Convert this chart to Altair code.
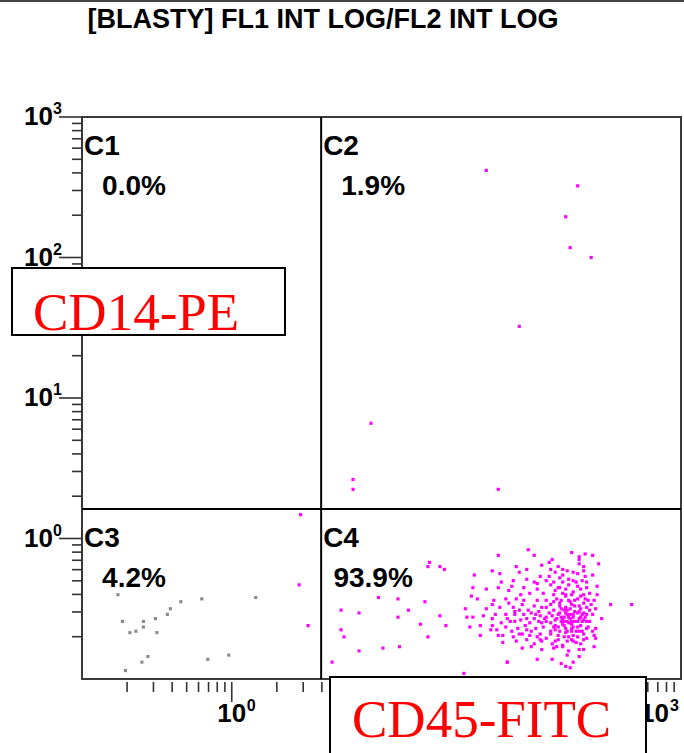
import altair as alt
import pandas as pd

# ---------------------------------------------------------------------------
# Dot plot of the blast gate: FL1 (CD45-FITC) against FL2 (CD14-PE), log/log.
# Event values are stored as log10 intensities.
# ---------------------------------------------------------------------------
TITLE = "[BLASTY] FL1 INT LOG/FL2 INT LOG"

quadrant_names = ["C1", "C2", "C3", "C4"]
quadrant_pcts = ["0.0%", "1.9%", "4.2%", "93.9%"]

# quadrant gate positions (log10)
gate_fl1 = 0.597
gate_fl2 = 0.21

# main CD45+ / CD14- population (C4)
core_fl1 = [
    1.98, 1.78, 2.02, 2.27, 2.32, 2.36, 2.41, 2.32, 2.45, 2.12,
    2.14, 2.07, 1.90, 1.97, 1.92, 1.74, 1.79, 1.62, 2.18, 2.21,
    2.24, 2.16, 2.35, 2.31, 2.36, 2.41, 2.06, 2.12, 2.19, 2.25,
    2.30, 1.88, 1.97, 1.80, 2.02, 2.10, 2.15, 2.21, 1.61, 1.70,
    1.78, 1.87, 1.95, 2.04, 2.13, 2.18, 2.23, 2.31, 2.33, 2.37,
    2.44, 1.85, 1.93, 1.99, 2.08, 2.15, 2.21, 2.28, 2.35, 2.39,
    2.44, 1.60, 1.64, 1.75, 1.83, 1.90, 1.95, 2.04, 2.10, 2.17,
    2.25, 2.31, 2.36, 2.42, 2.53, 2.67, 1.56, 1.70, 1.74, 1.79,
    1.88, 1.94, 2.02, 2.07, 2.13, 2.19, 2.23, 2.27, 2.32, 2.37,
    2.43, 1.57, 1.61, 1.68, 1.76, 1.83, 1.89, 1.95, 2.00, 2.06,
    2.12, 2.18, 2.22, 2.26, 2.31, 2.35, 2.41, 2.47, 1.66, 1.74,
    1.80, 1.86, 1.93, 1.99, 2.05, 2.10, 2.16, 2.20, 2.25, 2.29,
    2.34, 2.39, 1.59, 1.73, 1.83, 1.91, 1.97, 2.03, 2.08, 2.15,
    2.22, 2.27, 2.32, 2.37, 2.43, 1.66, 1.78, 1.81, 1.88, 1.94,
    1.99, 2.06, 2.13, 2.18, 2.23, 2.28, 2.35, 2.43, 1.81, 1.90,
    1.97, 2.02, 2.07, 2.14, 2.18, 2.24, 2.30, 2.35, 2.42, 1.94,
    2.00, 2.07, 2.15, 2.21, 2.25, 2.32, 2.35, 2.04, 2.14, 2.24,
    2.28, 2.32, 2.20, 2.23, 2.26, 1.84,
    2.19, 2.21, 2.24, 2.26, 2.28, 2.22, 2.29, 2.33, 2.24, 2.20,
    2.29, 2.33, 2.17, 2.14, 2.27, 2.31, 2.23, 2.35, 2.37, 2.32,
    2.27, 2.25, 2.31, 2.34, 2.19, 2.16, 2.13, 2.09, 2.05, 2.10,
    2.15, 2.20, 2.23, 2.27, 2.33, 2.38, 2.40, 2.38, 2.41, 2.37,
    2.28, 2.21, 2.16, 2.10, 2.04, 2.00, 1.96, 2.02, 1.98, 1.92,
    1.85, 1.84, 1.89, 1.87, 1.77, 1.74, 2.04, 2.19, 2.25, 2.28,
    2.16, 2.37, 2.34, 2.28, 2.21, 2.13, 2.35, 2.32,
    2.23, 2.25, 2.28, 2.21, 2.32, 2.27, 2.35, 2.29, 2.19, 2.15,
    2.24, 2.30, 2.22, 2.27, 2.13, 2.16, 2.33, 2.36, 2.39, 2.23,
    2.26, 2.20, 2.24, 2.31, 2.34, 2.18, 2.28, 2.22, 2.26, 2.37,
    2.10, 2.07, 2.03, 1.97, 1.89, 1.92, 2.06, 2.17, 2.33, 2.42,
]
core_fl2 = [
    -0.08, -0.12, -0.12, -0.10, -0.13, -0.11, -0.12, -0.15, -0.18, -0.17,
    -0.15, -0.19, -0.20, -0.22, -0.24, -0.23, -0.25, -0.26, -0.20, -0.22,
    -0.23, -0.24, -0.23, -0.25, -0.27, -0.26, -0.27, -0.27, -0.28, -0.29,
    -0.31, -0.30, -0.29, -0.31, -0.31, -0.30, -0.31, -0.31, -0.35, -0.36,
    -0.35, -0.34, -0.35, -0.36, -0.33, -0.35, -0.36, -0.34, -0.36, -0.35,
    -0.34, -0.37, -0.40, -0.39, -0.39, -0.40, -0.39, -0.38, -0.40, -0.39,
    -0.40, -0.41, -0.43, -0.44, -0.43, -0.43, -0.44, -0.44, -0.44, -0.43,
    -0.44, -0.43, -0.43, -0.44, -0.47, -0.47, -0.50, -0.50, -0.47, -0.49,
    -0.49, -0.47, -0.48, -0.49, -0.47, -0.48, -0.49, -0.47, -0.48, -0.49,
    -0.50, -0.56, -0.56, -0.55, -0.54, -0.54, -0.52, -0.54, -0.53, -0.55,
    -0.53, -0.54, -0.56, -0.54, -0.53, -0.53, -0.54, -0.57, -0.62, -0.62,
    -0.60, -0.59, -0.58, -0.60, -0.59, -0.59, -0.58, -0.59, -0.60, -0.59,
    -0.59, -0.59, -0.63, -0.65, -0.63, -0.64, -0.65, -0.64, -0.63, -0.63,
    -0.62, -0.64, -0.66, -0.64, -0.64, -0.69, -0.69, -0.69, -0.70, -0.68,
    -0.69, -0.68, -0.68, -0.69, -0.67, -0.69, -0.68, -0.71, -0.74, -0.73,
    -0.72, -0.75, -0.73, -0.75, -0.72, -0.73, -0.74, -0.72, -0.77, -0.78,
    -0.77, -0.79, -0.78, -0.77, -0.80, -0.79, -0.79, -0.86, -0.86, -0.83,
    -0.88, -0.84, -0.89, -0.91, -0.92, -0.88,
    -0.53, -0.57, -0.54, -0.57, -0.56, -0.59, -0.52, -0.56, -0.51, -0.50,
    -0.48, -0.50, -0.57, -0.55, -0.61, -0.63, -0.64, -0.58, -0.54, -0.52,
    -0.66, -0.70, -0.70, -0.66, -0.66, -0.65, -0.60, -0.57, -0.52, -0.49,
    -0.45, -0.44, -0.41, -0.40, -0.41, -0.44, -0.47, -0.63, -0.66, -0.71,
    -0.73, -0.76, -0.73, -0.71, -0.70, -0.66, -0.62, -0.57, -0.51, -0.51,
    -0.46, -0.57, -0.59, -0.66, -0.65, -0.57, -0.32, -0.35, -0.33, -0.30,
    -0.37, -0.31, -0.30, -0.24, -0.26, -0.22, -0.20, -0.18,
    -0.53, -0.56, -0.54, -0.61, -0.57, -0.59, -0.46, -0.44, -0.46, -0.51,
    -0.66, -0.66, -0.70, -0.72, -0.66, -0.62, -0.62, -0.56, -0.51, -0.40,
    -0.45, -0.56, -0.59, -0.59, -0.54, -0.63, -0.63, -0.51, -0.50, -0.59,
    -0.56, -0.60, -0.54, -0.57, -0.54, -0.68, -0.72, -0.77, -0.75, -0.69,
]

# sparse events left of the main C4 cloud
spread_fl1 = [1.32, 1.39, 1.42, 1.31, 0.98, 1.11, 1.29, 0.73, 0.85, 1.18, 1.11, 1.39,
              1.26, 1.43, 0.73, 0.75, 1.31, 1.01, 0.85, 1.12, 0.67, 1.55, 1.84]
spread_fl2 = [-0.17, -0.20, -0.22, -0.20, -0.42, -0.43, -0.45, -0.51, -0.53, -0.51, -0.56, -0.55,
              -0.61, -0.62, -0.65, -0.70, -0.70, -0.78, -0.80, -0.77, -0.88, -0.96, -0.88]

# CD14+ events (C2)
c2_fl1 = [1.70, 2.31, 2.23, 2.26, 2.40, 1.92, 0.93, 0.81, 0.81, 1.78]
c2_fl2 = [2.62, 2.51, 2.29, 2.07, 2.00, 1.51, 0.82, 0.42, 0.35, 0.35]

# gated events falling in C3
c3_fl1 = [0.46, 0.45, 0.51]
c3_fl2 = [0.17, -0.33, -0.62]

# ungated debris in C3 (grey)
debris_fl1 = [-0.76, -0.73, -0.68, -0.64, -0.59, -0.59, -0.51, -0.50, -0.43, -0.41,
              -0.34, -0.20, 0.16, -0.56, -0.60, -0.71, -0.16, -0.02]
debris_fl2 = [-0.40, -0.59, -0.67, -0.66, -0.59, -0.63, -0.57, -0.67, -0.54, -0.50,
              -0.45, -0.43, -0.42, -0.84, -0.88, -0.94, -0.86, -0.83]

decades = [0, 1, 2, 3]
labelled_x_decades = [0, 3]   # the others sit under the CD45-FITC box

# ---------------------------------------------------------------------------
W, H = 599, 562
MAGENTA = "#FF00FF"
LABEL_FONT = "Liberation Sans"

xs = alt.Scale(type="log", domain=[0.1, 1000], nice=False)
ys = alt.Scale(type="log", domain=[0.1, 1000], nice=False)


def events(fl1, fl2, kind):
    return pd.DataFrame({"fl1_log": fl1, "fl2_log": fl2, "kind": kind})


ev = pd.concat([
    events(core_fl1, core_fl2, "gated"),
    events(spread_fl1, spread_fl2, "gated"),
    events(c2_fl1, c2_fl2, "gated"),
    events(c3_fl1, c3_fl2, "gated"),
    events(debris_fl1, debris_fl2, "debris"),
], ignore_index=True)

dots = alt.Chart(ev).transform_calculate(
    fl1="pow(10, datum.fl1_log)", fl2="pow(10, datum.fl2_log)"
).mark_square(size=10, opacity=1).encode(
    x=alt.X("fl1:Q", scale=xs, axis=None),
    y=alt.Y("fl2:Q", scale=ys, axis=None),
    color=alt.Color("kind:N", scale=alt.Scale(domain=["gated", "debris"],
                                              range=[MAGENTA, "#8a8a8a"]), legend=None),
)

# quadrant gate lines
gates_v = alt.Chart(pd.DataFrame({"g": [gate_fl1]})).transform_calculate(
    gx="pow(10, datum.g)").mark_rule(color="black", strokeWidth=2).encode(
    x=alt.X("gx:Q", scale=xs, axis=None))
gates_h = alt.Chart(pd.DataFrame({"g": [gate_fl2]})).transform_calculate(
    gy="pow(10, datum.g)").mark_rule(color="black", strokeWidth=2).encode(
    y=alt.Y("gy:Q", scale=ys, axis=None))

# quadrant labels, anchored at each quadrant's upper-left corner
quad = pd.DataFrame({
    "name": quadrant_names,
    "pct": quadrant_pcts,
    "cx": [-1, gate_fl1, -1, gate_fl1],
    "cy": [3, 3, gate_fl2, gate_fl2],
})
quad_base = alt.Chart(quad).transform_calculate(
    qx="pow(10, datum.cx)", qy="pow(10, datum.cy)")
quad_names = quad_base.mark_text(align="left", baseline="alphabetic", dx=2, dy=38,
                                 font=LABEL_FONT, fontWeight="bold", fontSize=28,
                                 color="black").encode(
    x=alt.X("qx:Q", scale=xs, axis=None), y=alt.Y("qy:Q", scale=ys, axis=None),
    text="name:N")
quad_pcts = quad_base.mark_text(align="center", baseline="alphabetic", dx=52, dy=78,
                                font=LABEL_FONT, fontWeight="bold", fontSize=28,
                                color="black").encode(
    x=alt.X("qx:Q", scale=xs, axis=None), y=alt.Y("qy:Q", scale=ys, axis=None),
    text="pct:N")

# log axis tick marks (major + minor)
minor = pd.DataFrame({"v": [m * 10.0 ** d for d in range(-1, 3) for m in range(2, 10)]})
major = pd.DataFrame({"v": [10.0 ** d for d in decades]})
TICK = "#333333"

y_minor = alt.Chart(minor).mark_rule(color=TICK, strokeWidth=1.6).encode(
    y=alt.Y("v:Q", scale=ys, axis=None), x=alt.value(-10), x2=alt.value(0))
y_major = alt.Chart(major).mark_rule(color=TICK, strokeWidth=1.6).encode(
    y=alt.Y("v:Q", scale=ys, axis=None), x=alt.value(-23), x2=alt.value(0))
x_minor = alt.Chart(minor).mark_rule(color=TICK, strokeWidth=1.6).encode(
    x=alt.X("v:Q", scale=xs, axis=None), y=alt.value(H + 3), y2=alt.value(H + 13))
x_major = alt.Chart(major[major.v < 1000]).mark_rule(color=TICK, strokeWidth=1.6).encode(
    x=alt.X("v:Q", scale=xs, axis=None), y=alt.value(H + 3), y2=alt.value(H + 23))

# power-of-ten labels: "10" plus a raised exponent
lab = pd.DataFrame({"d": decades,
                    "v": [10.0 ** d for d in decades],
                    "base": ["10"] * len(decades),
                    "exp": [str(d) for d in decades]})
y_base = alt.Chart(lab).mark_text(align="right", baseline="middle", font=LABEL_FONT,
                                  fontWeight="bold", fontSize=26, color="black").encode(
    y=alt.Y("v:Q", scale=ys, axis=None), x=alt.value(-29), text="base:N")
y_exp = alt.Chart(lab).mark_text(align="left", baseline="middle", dy=-8, font=LABEL_FONT,
                                 fontWeight="bold", fontSize=16, color="black").encode(
    y=alt.Y("v:Q", scale=ys, axis=None), x=alt.value(-29), text="exp:N")

lab_in = lab[lab.d.isin(labelled_x_decades) & (lab.d < 3)]
lab_end = lab[lab.d.isin(labelled_x_decades) & (lab.d >= 3)]
x_base = alt.Chart(lab_in).mark_text(align="center", baseline="middle", font=LABEL_FONT,
                                     fontWeight="bold", fontSize=26, color="black").encode(
    x=alt.X("v:Q", scale=xs, axis=None), y=alt.value(H + 35), text="base:N")
x_exp = alt.Chart(lab_in).mark_text(align="left", baseline="middle", dx=15, font=LABEL_FONT,
                                    fontWeight="bold", fontSize=16, color="black").encode(
    x=alt.X("v:Q", scale=xs, axis=None), y=alt.value(H + 27), text="exp:N")
# the last decade sits on the frame edge, so its label is pulled inside
x_base_end = alt.Chart(lab_end).mark_text(align="right", baseline="middle", dx=-12,
                                          font=LABEL_FONT, fontWeight="bold", fontSize=26,
                                          color="black").encode(
    x=alt.X("v:Q", scale=xs, axis=None), y=alt.value(H + 35), text="base:N")
x_exp_end = alt.Chart(lab_end).mark_text(align="left", baseline="middle", dx=-11,
                                         font=LABEL_FONT, fontWeight="bold", fontSize=16,
                                         color="black").encode(
    x=alt.X("v:Q", scale=xs, axis=None), y=alt.value(H + 27), text="exp:N")

# header
title = alt.Chart(pd.DataFrame({"t": [TITLE]})).mark_text(
    align="center", baseline="middle", font=LABEL_FONT, fontWeight="bold", fontSize=27,
    color="black").encode(x=alt.value(241), y=alt.value(-97), text="t:N")
top_line = alt.Chart(pd.DataFrame({"k": [0]})).mark_rule(color="#444444", strokeWidth=2).encode(
    x=alt.value(-82), x2=alt.value(W + 3), y=alt.value(-116))

# boxed marker names
pe_box = alt.Chart(pd.DataFrame({"k": [0]})).mark_rect(
    fill="white", stroke="black", strokeWidth=2).encode(
    x=alt.value(-70), x2=alt.value(203), y=alt.value(151), y2=alt.value(218))
pe_text = alt.Chart(pd.DataFrame({"t": ["CD14-PE"]})).mark_text(
    align="left", baseline="alphabetic", font="Liberation Serif", fontSize=53,
    color="#FF0000").encode(x=alt.value(-49), y=alt.value(213), text="t:N")
fitc_box = alt.Chart(pd.DataFrame({"k": [0]})).mark_rect(
    fill="white", stroke="black", strokeWidth=2).encode(
    x=alt.value(248), x2=alt.value(564), y=alt.value(H - 2), y2=alt.value(H + 100))
fitc_text = alt.Chart(pd.DataFrame({"t": ["CD45-FITC"]})).mark_text(
    align="left", baseline="alphabetic", font="Liberation Serif", fontSize=53,
    color="#FF0000").encode(x=alt.value(270), y=alt.value(H + 58), text="t:N")

chart = alt.layer(
    top_line, title,
    y_minor, y_major, x_minor, x_major,
    y_base, y_exp, x_base, x_exp, x_base_end, x_exp_end,
    dots, gates_v, gates_h, quad_names, quad_pcts,
    pe_box, pe_text, fitc_box, fitc_text,
).properties(
    width=W, height=H,
    padding={"left": 82, "top": 117, "right": 3, "bottom": 74},
    autosize=alt.AutoSizeParams(type="none"),
    background="white",
).configure_view(stroke="#3a3a3a", strokeWidth=2)

chart.save("out.html", embed_options={"renderer": "svg", "actions": False})
